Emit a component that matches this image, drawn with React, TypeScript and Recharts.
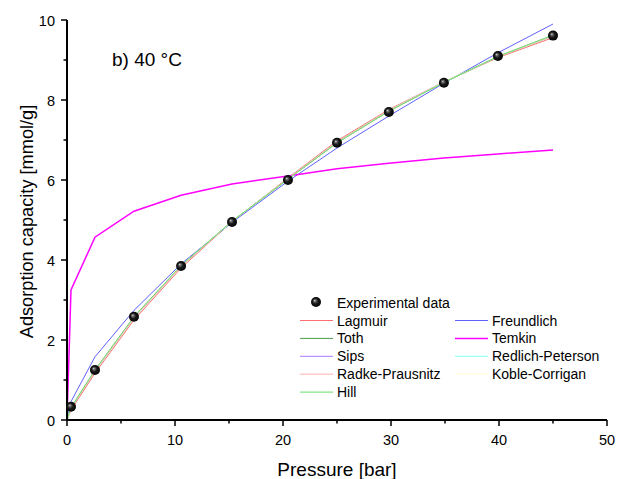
import React from 'react';
import { LineChart, Line, XAxis, YAxis, Legend } from 'recharts';

const pressure = [0, 0.37, 2.59, 6.2, 10.56, 15.28, 20.46, 25.0, 29.8, 34.9, 39.9, 45.0];
const experimental = [null, 0.33, 1.25, 2.58, 3.85, 4.95, 6.0, 6.93, 7.7, 8.43, 9.1, 9.61];
const lagmuir = [0, 0.25, 1.17, 2.5, 3.8, 4.96, 6.05, 6.98, 7.76, 8.45, 9.06, 9.56];
const toth = [0, 0.3, 1.24, 2.57, 3.85, 4.97, 6.02, 6.93, 7.72, 8.44, 9.08, 9.62];
const sips = [0, 0.31, 1.25, 2.58, 3.86, 4.97, 6.02, 6.93, 7.72, 8.44, 9.09, 9.62];
const redlichPeterson = [0, 0.29, 1.22, 2.55, 3.84, 4.97, 6.03, 6.95, 7.74, 8.45, 9.08, 9.6];
const radkePrausnitz = [0, 0.29, 1.22, 2.55, 3.84, 4.97, 6.03, 6.95, 7.74, 8.45, 9.08, 9.6];
const kobleCorrigan = [0, 0.31, 1.25, 2.58, 3.86, 4.97, 6.02, 6.93, 7.72, 8.44, 9.09, 9.62];
const hill = [0, 0.31, 1.25, 2.58, 3.86, 4.97, 6.02, 6.93, 7.72, 8.44, 9.09, 9.62];
const freundlich = [0, 0.46, 1.58, 2.74, 3.9, 4.94, 5.97, 6.8, 7.6, 8.42, 9.18, 9.9];
const temkin = [0, 3.25, 4.57, 5.22, 5.62, 5.9, 6.1, 6.28, 6.42, 6.55, 6.65, 6.75];

const xTicks = [0, 5, 10, 15, 20, 25, 30, 35, 40, 45, 50];
const yTicks = [0, 1, 2, 3, 4, 5, 6, 7, 8, 9, 10];
const xMajor = [0, 10, 20, 30, 40, 50];
const yMajor = [0, 2, 4, 6, 8, 10];

const series = [
  { key: 'Lagmuir', values: lagmuir, color: '#ff6f6f', width: 1 },
  { key: 'Freundlich', values: freundlich, color: '#6060ff', width: 1 },
  { key: 'Toth', values: toth, color: '#4c9c4c', width: 1 },
  { key: 'Temkin', values: temkin, color: '#ff00ff', width: 1.5 },
  { key: 'Sips', values: sips, color: '#a878ff', width: 1 },
  { key: 'Redlich-Peterson', values: redlichPeterson, color: '#80ffff', width: 1 },
  { key: 'Radke-Prausnitz', values: radkePrausnitz, color: '#ffb0b0', width: 1 },
  { key: 'Koble-Corrigan', values: kobleCorrigan, color: '#ffffd0', width: 1 },
  { key: 'Hill', values: hill, color: '#66e066', width: 1 },
];

const legendLeft = ['Lagmuir', 'Toth', 'Sips', 'Radke-Prausnitz', 'Hill'];
const legendRight = ['Freundlich', 'Temkin', 'Redlich-Peterson', 'Koble-Corrigan'];

const data = pressure.map((p, i) => {
  const row: Record<string, number | null> = { pressure: p, Experimental: experimental[i] };
  series.forEach((s) => (row[s.key] = s.values[i]));
  return row;
});

const FONT = 'Arial, "Liberation Sans", sans-serif';

const XTick = (props: any) => {
  const { x, y, payload } = props;
  const v = payload.value;
  const major = xMajor.includes(v);
  return (
    <g>
      <line x1={x} x2={x} y1={y} y2={y + (major ? 6 : 3.5)} stroke="#000" strokeWidth={1.5} />
      {major && (
        <text x={x} y={y + 25} textAnchor="middle" fontSize={14.5} fontFamily={FONT} fill="#000">
          {v}
        </text>
      )}
    </g>
  );
};

const YTick = (props: any) => {
  const { x, y, payload } = props;
  const v = payload.value;
  const major = yMajor.includes(v);
  return (
    <g>
      <line x1={x - (major ? 6 : 3.5)} x2={x} y1={y} y2={y} stroke="#000" strokeWidth={1.5} />
      {major && (
        <text x={x - 12} y={y + 5.5} textAnchor="end" fontSize={14.5} fontFamily={FONT} fill="#000">
          {v}
        </text>
      )}
    </g>
  );
};

const Ball = (props: any) => {
  const { cx, cy, value, index } = props;
  if (cx == null || cy == null || value == null) return <g key={`b${index}`} />;
  return <circle key={`b${index}`} cx={cx} cy={cy} r={5} fill="url(#ballGrad)" />;
};

const colorOf = (k: string) => series.find((s) => s.key === k)!.color;
const widthOf = (k: string) => series.find((s) => s.key === k)!.width;

const LegendBox = () => (
  <svg width={330} height={115} style={{ display: 'block' }}>
    <g transform="translate(-290,-290)" fontFamily={FONT} fontSize={14} fill="#000">
      <circle cx={316} cy={302} r={5} fill="url(#ballGrad)" />
      <text x={337} y={307.5}>Experimental data</text>
      {legendLeft.map((k, i) => (
        <g key={k}>
          <line x1={300} x2={333} y1={320.5 + i * 17.9} y2={320.5 + i * 17.9} stroke={colorOf(k)} strokeWidth={widthOf(k)} />
          <text x={337} y={325.5 + i * 17.9}>{k}</text>
        </g>
      ))}
      {legendRight.map((k, i) => (
        <g key={k}>
          <line x1={455} x2={488} y1={320.5 + i * 17.9} y2={320.5 + i * 17.9} stroke={colorOf(k)} strokeWidth={widthOf(k)} />
          <text x={492} y={325.5 + i * 17.9}>{k}</text>
        </g>
      ))}
    </g>
  </svg>
);

export default function App() {
  return (
    <div style={{ position: 'absolute', left: 0, top: 0, width: 619, height: 479, background: '#fff' }}>
      <svg width={0} height={0} style={{ position: 'absolute' }}>
        <defs>
          <radialGradient id="ballGrad" cx="50%" cy="50%" r="55%" fx="36%" fy="34%">
            <stop offset="0%" stopColor="#d0d0d0" />
            <stop offset="18%" stopColor="#707070" />
            <stop offset="48%" stopColor="#1a1a1a" />
            <stop offset="100%" stopColor="#000" />
          </radialGradient>
        </defs>
      </svg>
      <LineChart
        width={619}
        height={479}
        data={data}
        margin={{ top: 20, right: 12, bottom: 19, left: 17 }}
      >
        <XAxis
          dataKey="pressure"
          type="number"
          domain={[0, 50]}
          ticks={xTicks}
          interval={0}
          tick={<XTick />}
          tickLine={false}
          tickSize={0}
          tickMargin={0}
          height={40}
          axisLine={{ stroke: '#000', strokeWidth: 2 }}
        />
        <XAxis
          xAxisId="top"
          orientation="top"
          type="number"
          domain={[0, 50]}
          tick={false}
          tickLine={false}
          height={0}
          axisLine={{ stroke: '#000', strokeWidth: 2 }}
        />
        <YAxis
          type="number"
          domain={[0, 10]}
          ticks={yTicks}
          interval={0}
          tick={<YTick />}
          tickLine={false}
          tickSize={0}
          tickMargin={0}
          width={50}
          axisLine={{ stroke: '#000', strokeWidth: 2 }}
        />
        <YAxis
          yAxisId="right"
          orientation="right"
          type="number"
          domain={[0, 10]}
          tick={false}
          tickLine={false}
          width={0}
          axisLine={{ stroke: '#000', strokeWidth: 2 }}
        />
        <Line
          dataKey="Experimental"
          type="linear"
          stroke="none"
          dot={<Ball />}
          activeDot={false}
          isAnimationActive={false}
          connectNulls
          legendType="none"
        />
        {series.map((s) => (
          <Line
            key={s.key}
            dataKey={s.key}
            type="linear"
            stroke={s.color}
            strokeWidth={s.width}
            dot={false}
            activeDot={false}
            isAnimationActive={false}
            legendType="none"
          />
        ))}
        <Legend
          layout="horizontal"
          verticalAlign="middle"
          align="center"
          wrapperStyle={{ left: 290, top: 290, width: 330, height: 115 }}
          content={() => <LegendBox />}
        />
      </LineChart>
      <svg width={619} height={479} style={{ position: 'absolute', left: 0, top: 0, pointerEvents: 'none' }}>
        <text x={112} y={66} fontFamily={FONT} fontSize={19} fill="#000">b) 40 °C</text>
        <text x={337} y={476} textAnchor="middle" fontFamily={FONT} fontSize={19} fill="#000">Pressure [bar]</text>
        <text
          x={0}
          y={0}
          transform="translate(33,221.5) rotate(-90)"
          textAnchor="middle"
          fontFamily={FONT}
          fontSize={18.2}
          fill="#000"
        >
          Adsorption capacity [mmol/g]
        </text>
      </svg>
    </div>
  );
}
